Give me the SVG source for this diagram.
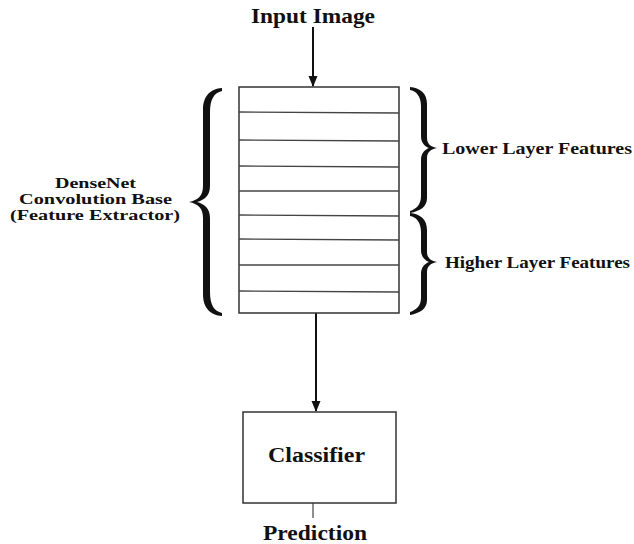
<svg xmlns="http://www.w3.org/2000/svg" width="634" height="544" viewBox="0 0 634 544">
<style>
text{font-family:"Liberation Serif","Times New Roman",serif;font-weight:bold;fill:#111}
.box{fill:#fff;stroke:#333;stroke-width:1.5}
.row{stroke:#444;stroke-width:1.3}
.conn{stroke:#111;stroke-width:2;fill:none}
.brace{fill:#111}
</style>
<defs>
<marker id="ah" markerWidth="11" markerHeight="11" refX="10" refY="5.5" orient="auto" markerUnits="userSpaceOnUse">
<path d="M0,1 L11,5.5 L0,10 Z" fill="#111"/>
</marker>
</defs>
<rect width="634" height="544" fill="#fff"/>
<g id="input-label"><text x="251" y="23" font-size="21" textLength="124" lengthAdjust="spacingAndGlyphs">Input Image</text></g>
<g id="connectors">
<line class="conn" x1="313" y1="27" x2="313" y2="86" marker-end="url(#ah)"/>
<line class="conn" x1="316" y1="313" x2="316" y2="411" marker-end="url(#ah)"/>
<line stroke="#444" stroke-width="1.2" x1="313" y1="503" x2="313" y2="518"/>
</g>
<g id="conv-base">
<rect class="box" x="239" y="87" width="160" height="226"/>
<line class="row" x1="239" y1="112" x2="399" y2="113"/>
<line class="row" x1="239" y1="140" x2="399" y2="141"/>
<line class="row" x1="239" y1="166" x2="399" y2="167"/>
<line class="row" x1="239" y1="191" x2="399" y2="191"/>
<line class="row" x1="239" y1="215" x2="399" y2="216"/>
<line class="row" x1="239" y1="239" x2="399" y2="240"/>
<line class="row" x1="239" y1="265" x2="399" y2="265"/>
<line class="row" x1="239" y1="291" x2="399" y2="292"/>
</g>
<g id="left-brace">
<path class="brace" d="M222,88 C211,89 203,95 203,110 L203,186 C203,196 198,200 189,202 C198,204 203,208 203,218 L203,294 C203,309 211,315 222,316 L222,313 C214,311 210,305 210,292 L210,218 C210,208 204,204 197,202 C204,200 210,196 210,186 L210,112 C210,99 214,93 222,91 Z"/>
<text x="55" y="188" font-size="14.5" textLength="81" lengthAdjust="spacingAndGlyphs">DenseNet</text>
<text x="19" y="204" font-size="14.5" textLength="153" lengthAdjust="spacingAndGlyphs">Convolution Base</text>
<text x="10" y="220" font-size="14.5" textLength="170" lengthAdjust="spacingAndGlyphs">(Feature Extractor)</text>
</g>
<g id="lower-features">
<path class="brace" d="M410,87 C420,88 427,93 427,104 L427,138 C427,144 431,147 437,148 C431,149 427,152 427,158 L427,198 C427,207 420,211 410,213 L410,211 C416,209 421,205 421,196 L421,160 C421,154 424,150 429,148 C424,146 421,142 421,136 L421,106 C421,96 416,91 410,90 Z"/>
<text x="442" y="154" font-size="17" textLength="190" lengthAdjust="spacingAndGlyphs">Lower Layer Features</text>
</g>
<g id="higher-features">
<path class="brace" d="M410,213 C420,214 427,219 427,230 L427,252 C427,258 431,261 437,262 C431,263 427,266 427,272 L427,300 C427,309 420,313 410,315 L410,312 C416,310 421,306 421,298 L421,274 C421,268 424,264 429,262 C424,260 421,256 421,250 L421,232 C421,222 416,217 410,216 Z"/>
<text x="445" y="268" font-size="17" textLength="185" lengthAdjust="spacingAndGlyphs">Higher Layer Features</text>
</g>
<g id="classifier">
<rect class="box" x="243" y="412" width="153" height="91"/>
<text x="268" y="462" font-size="20" textLength="97" lengthAdjust="spacingAndGlyphs">Classifier</text>
</g>
<g id="prediction"><text x="263" y="540" font-size="22" textLength="104" lengthAdjust="spacingAndGlyphs">Prediction</text></g>
</svg>
